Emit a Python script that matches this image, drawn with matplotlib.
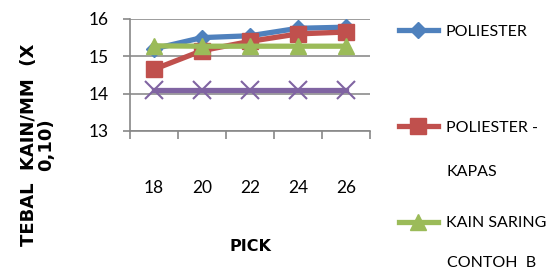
import matplotlib
matplotlib.use("Agg")
import matplotlib.pyplot as plt
from matplotlib import font_manager

categories = ["18", "20", "22", "24", "26"]
poliester = [15.2, 15.5, 15.55, 15.75, 15.78]
poliester_kapas = [14.65, 15.15, 15.4, 15.6, 15.65]
kain_saring_b = [15.28, 15.27, 15.27, 15.27, 15.27]
series4 = [14.1, 14.1, 14.1, 14.1, 14.1]
yticks = [13, 14, 15, 16]

names = {f.name for f in font_manager.fontManager.ttflist}
fam = "Liberation Sans Narrow" if "Liberation Sans Narrow" in names else "Lato"

fig = plt.figure(figsize=(5.53, 2.75), dpi=100)
ax = fig.add_axes([0.235, 0.524, 0.434, 0.407])
x = list(range(len(categories)))
ax.plot(x, series4, color="#8064A2", lw=3.8, marker="x", ms=13, mew=1.5, zorder=3)
l1, = ax.plot(x, poliester, color="#4F81BD", lw=3.8, marker="D", ms=8, zorder=4)
l2, = ax.plot(x, poliester_kapas, color="#C0504D", lw=3.8, marker="s", ms=11, zorder=5)
l3, = ax.plot(x, kain_saring_b, color="#9BBB59", lw=3.8, marker="^", ms=12, zorder=6)
ax.set_xlim(-0.5, 4.5)
ax.set_ylim(13, 16)
ax.set_yticks(yticks)
ax.set_yticklabels([str(t) for t in yticks], fontfamily=fam, fontsize=12.5)
ax.set_xticks([i - 0.5 for i in range(6)])
ax.set_xticklabels([])
ax.set_xticks(x, minor=True)
ax.set_xticklabels(categories, minor=True, fontfamily=fam, fontsize=12.5)
ax.tick_params(axis="x", which="minor", length=0, pad=35)
ax.tick_params(axis="x", which="major", length=6, color="#888888", width=1.2)
ax.tick_params(axis="y", length=5, color="#888888", width=1.2, pad=10)
ax.yaxis.grid(True, color="#8c8c8c", lw=1.2)
ax.set_axisbelow(True)
for s in ["top", "right"]:
    ax.spines[s].set_visible(False)
for s in ["left", "bottom"]:
    ax.spines[s].set_color("#888888")
    ax.spines[s].set_linewidth(1.2)
fig.text(0.452, 0.105, "PICK", fontweight="bold", fontsize=11.5, ha="center", va="center")
fig.text(0.068, 0.475, "TEBAL  KAIN/MM  (X\n0,10)", rotation=90, fontweight="bold", fontsize=13,
         ha="center", va="center", multialignment="center", linespacing=0.95)

leg = fig.legend([l1, l2, l3], ["POLIESTER", "POLIESTER -", "KAIN SARING"],
                 loc="upper left", bbox_to_anchor=(0.722, 0.91), frameon=False,
                 prop={"family": fam, "size": 11.5}, handlelength=2.4, labelspacing=5.1,
                 handletextpad=0.5, borderpad=0, borderaxespad=0)
fig.text(0.808, 0.376, "KAPAS", fontfamily=fam, fontsize=11.5, ha="left", va="center")
fig.text(0.808, 0.045, "CONTOH  B", fontfamily=fam, fontsize=11.5, ha="left", va="center")
fig.savefig("out.png", dpi=100)
